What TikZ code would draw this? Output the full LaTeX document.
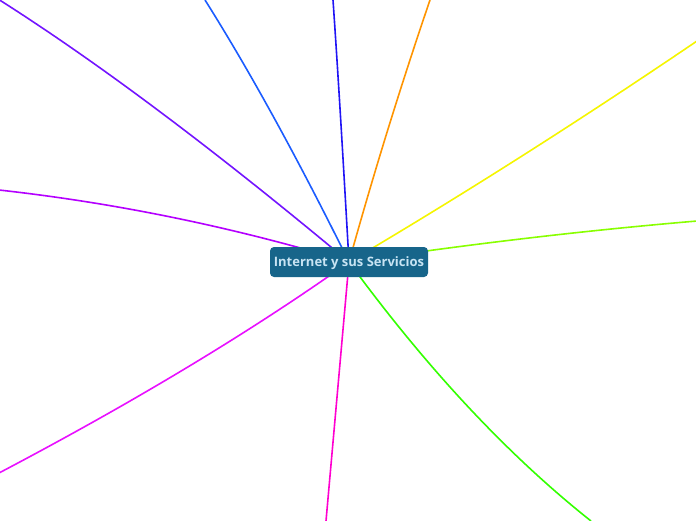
\documentclass[tikz,border=0pt]{standalone}
\usepackage{fontspec}
\setmainfont{Open Sans}
\usetikzlibrary{backgrounds}
\definecolor{topicfill}{HTML}{17658A}
\definecolor{topictext}{HTML}{C8E4F3}
\definecolor{cviolet}{HTML}{7314FF}
\definecolor{cblue}{HTML}{1B5CFF}
\definecolor{cdarkblue}{HTML}{2014F5}
\definecolor{corange}{HTML}{FF9400}
\definecolor{cyellow}{HTML}{F5F500}
\definecolor{clime}{HTML}{88FF00}
\definecolor{cgreen}{HTML}{33FF00}
\definecolor{cmagenta}{HTML}{FF00D0}
\definecolor{cpink}{HTML}{E810FF}
\definecolor{cpurple}{HTML}{B400FF}
\tikzset{
  topic/.style={fill=topicfill, text=topictext, rounded corners=4pt,
    minimum width=158pt, minimum height=30pt, inner sep=0pt,
    text height=9.3pt, text depth=0pt,
    font=\fontsize{13}{16}\selectfont\bfseries},
  branch/.style={line width=1.6pt}
}
\begin{document}
\begin{tikzpicture}[x=1pt,y=-1pt]
      \useasboundingbox (0,0) rectangle (696,520);
      \node[topic] (isc) at (349,262) {Internet y sus Servicios};
      \path
        (-2,-1) coordinate (e0)
        (205,0) coordinate (e1)
        (333,0) coordinate (e2)
        (430,0) coordinate (e3)
        (697,41) coordinate (e4)
        (697,221) coordinate (e5)
        (591,521) coordinate (e6)
        (326,521) coordinate (e7)
        (-1,473) coordinate (e8)
        (-1,190) coordinate (e9);
      \begin{scope}[on background layer]
        \draw[branch, cviolet] (isc.center) .. controls (216,151) and (99,63) .. (e0);
        \draw[branch, cblue] (isc.center) .. controls (299,161) and (251,73) .. (e1);
        \draw[branch, cdarkblue] (isc.center) .. controls (344,175) and (339,87) .. (e2);
        \draw[branch, corange] (isc.center) .. controls (374,172) and (401,85) .. (e3);
        \draw[branch, cyellow] (isc.center) .. controls (466,193) and (582,119) .. (e4);
        \draw[branch, clime] (isc.center) .. controls (463,245) and (579,231) .. (e5);
        \draw[branch, cgreen] (isc.center) .. controls (428,370) and (509,456) .. (e6);
        \draw[branch, cmagenta] (isc.center) -- (e7);
        \draw[branch, cpink] (isc.center) .. controls (249,333) and (132,403) .. (e8);
        \draw[branch, cpurple] (isc.center) .. controls (233,227) and (116,203) .. (e9);
      \end{scope}
    \end{tikzpicture}
\end{document}
